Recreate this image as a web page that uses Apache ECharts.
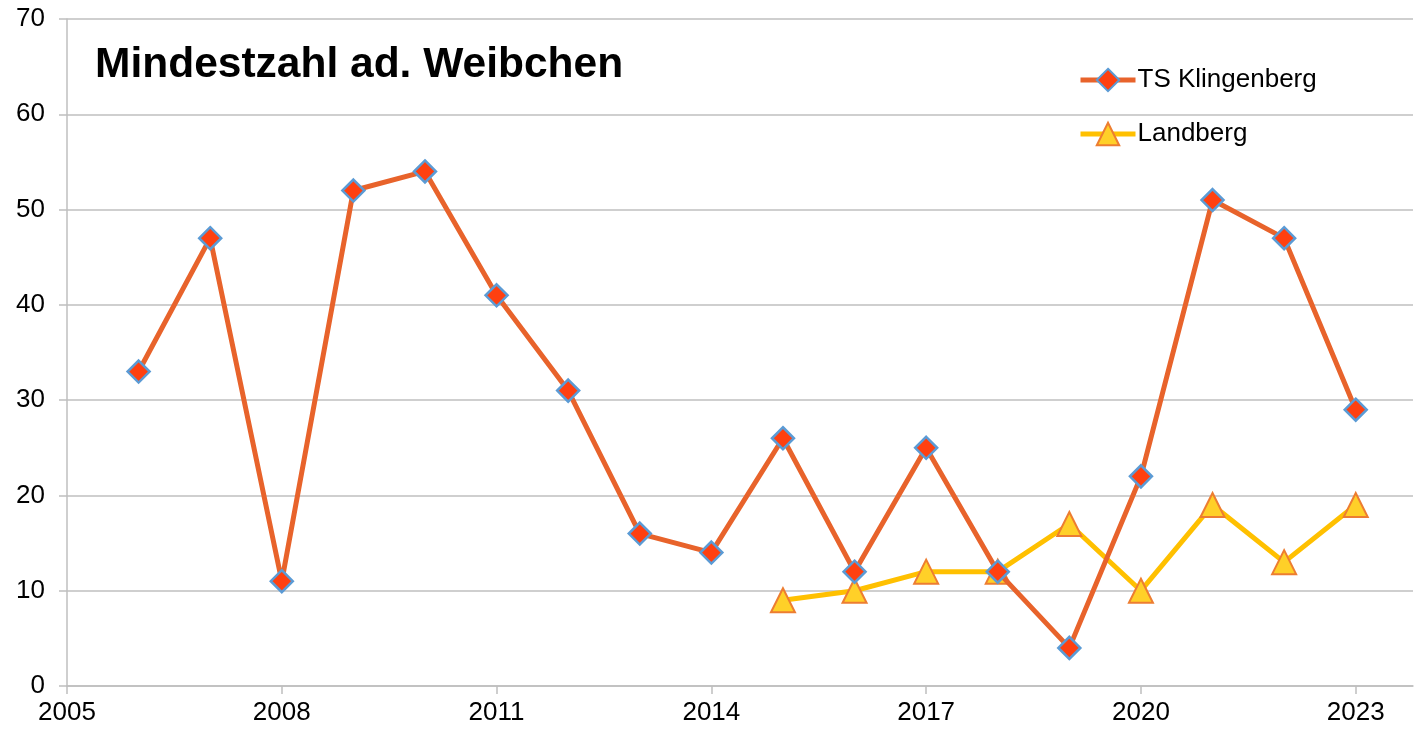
<!DOCTYPE html>
<html><head><meta charset="utf-8">
<script src="https://cdn.jsdelivr.net/npm/echarts@6/dist/echarts.min.js"></script>
<style>html,body{margin:0;padding:0;background:#fff}#c{width:1414px;height:734px}</style>
</head><body><div id="c"></div>
<script>
const titleText = 'Mindestzahl ad. Weibchen';
const seriesNames = ['TS Klingenberg', 'Landberg'];
const yearsK = [2006,2007,2008,2009,2010,2011,2012,2013,2014,2015,2016,2017,2018,2019,2020,2021,2022,2023];
const valuesK = [33,47,11,52,54,41,31,16,14,26,12,25,12,4,22,51,47,29];
const yearsL = [2015,2016,2017,2018,2019,2020,2021,2022,2023];
const valuesL = [9,10,12,12,17,10,19,13,19];
const xTicks = [2005,2008,2011,2014,2017,2020,2023];

const font = '"Liberation Sans", Arial, sans-serif';
const chart = echarts.init(document.getElementById('c'));
chart.setOption({
  animation: false,
  textStyle: {fontFamily: font},
  title: {text: titleText, left: 90, top: 39,
    textStyle: {fontFamily: font, fontSize: 42.5, fontWeight: 'bold', color: '#000'}},
  legend: {orient: 'vertical', left: 1073, top: 61, itemWidth: 55, itemHeight: 28, itemGap: 26,
    lineStyle: {width: 5},
    textStyle: {fontFamily: font, fontSize: 26, color: '#000', lineHeight: 28, padding: [0,0,0,-3]},
    data: seriesNames},
  grid: {left: 67, right: 1, top: 19, bottom: 48, containLabel: false},
  xAxis: {type: 'value', min: 2005, max: 2023.8, interval: 3,
    axisLine: {show: true, lineStyle: {color: '#BFBFBF', width: 1.5}},
    axisTick: {show: true, length: 8, lineStyle: {color: '#BFBFBF', width: 1.5}, customValues: xTicks},
    axisLabel: {fontSize: 26, color: '#000', margin: 14, fontFamily: font, customValues: xTicks,
      formatter: v => String(v)},
    splitLine: {show: false}},
  yAxis: {type: 'value', min: 0, max: 70, interval: 10,
    axisLine: {show: true, lineStyle: {color: '#BFBFBF', width: 1.5}},
    axisTick: {show: true, length: 8, lineStyle: {color: '#BFBFBF', width: 1.5}},
    axisLabel: {fontSize: 26, color: '#000', margin: 22, fontFamily: font},
    splitLine: {show: true, lineStyle: {color: '#BFBFBF', width: 1.5}}},
  series: [
    {name: seriesNames[0], type: 'line', data: yearsK.map((y,i)=>[y, valuesK[i]]),
      lineStyle: {color: '#E8632B', width: 5}, symbol: 'diamond', symbolSize: 22,
      itemStyle: {color: '#FF4010', borderColor: '#5B9BD5', borderWidth: 2.5}, z: 3},
    {name: seriesNames[1], type: 'line', data: yearsL.map((y,i)=>[y, valuesL[i]]),
      lineStyle: {color: '#FFC000', width: 5}, symbol: 'triangle', symbolSize: 24,
      itemStyle: {color: '#FFD028', borderColor: '#ED7D31', borderWidth: 2}, z: 2}
  ]
});
</script></body></html>
